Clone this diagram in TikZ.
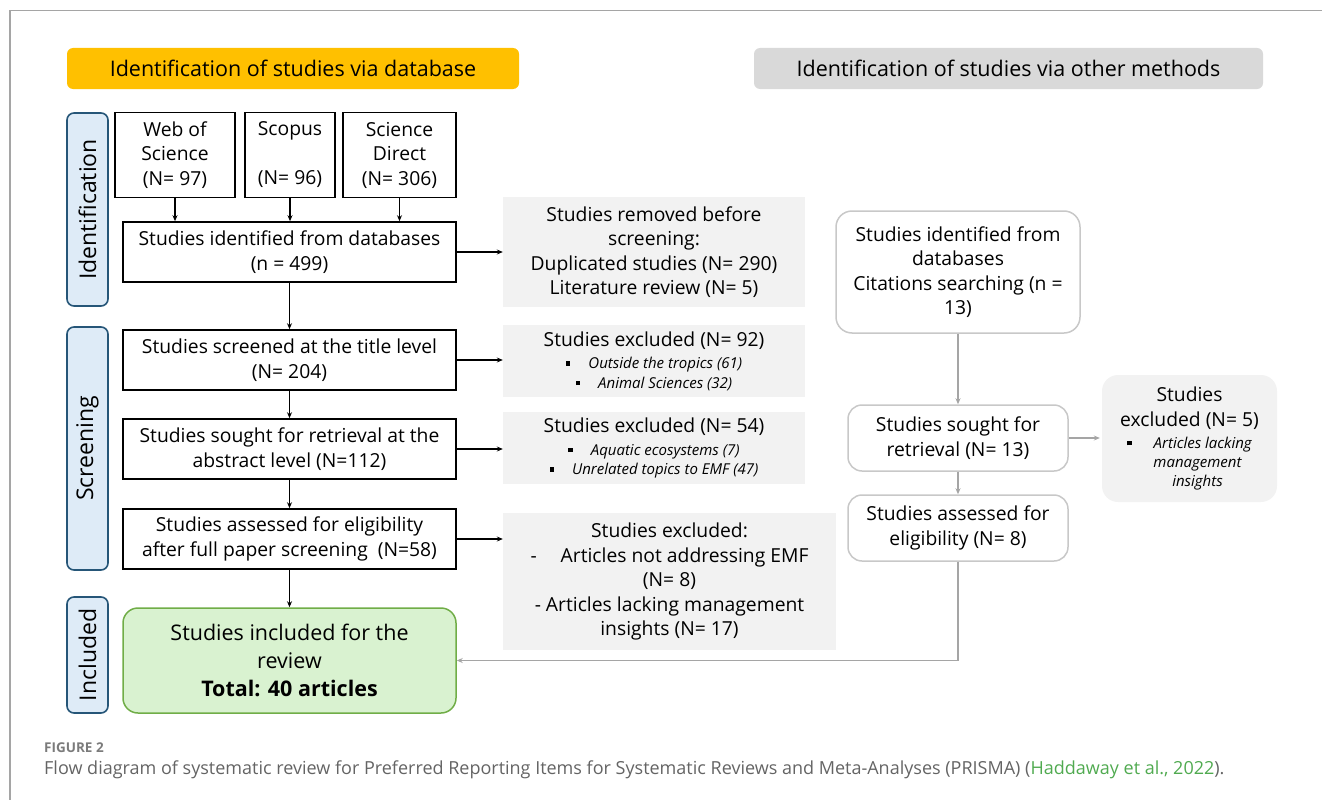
\documentclass[tikz,border=0pt]{standalone}
\usepackage{fontspec}
\setmainfont{Open Sans}
\usetikzlibrary{arrows.meta}
\definecolor{orng}{RGB}{255,192,0}
\definecolor{gbanner}{RGB}{217,217,217}
\definecolor{lblfill}{RGB}{222,235,247}
\definecolor{lbldraw}{RGB}{38,86,120}
\definecolor{exfill}{RGB}{242,242,242}
\definecolor{grline}{RGB}{165,165,165}
\definecolor{rborder}{RGB}{200,200,200}
\definecolor{inclfill}{RGB}{217,242,208}
\definecolor{incldraw}{RGB}{112,173,71}
\definecolor{captgray}{RGB}{100,100,100}
\definecolor{captgreen}{RGB}{80,170,80}
\newcommand{\bsq}{\raisebox{3pt}{\rule{4.5pt}{4.5pt}}}
\newcommand{\sm}{\fontsize{15}{20}\selectfont\itshape}
\tikzset{
  base/.style={inner sep=0pt, align=center, font=\fontsize{19.3}{24.5}\selectfont},
  blkbox/.style={base, draw=black, line width=1.6pt, fill=white},
  exbox/.style={base, fill=exfill},
  banner/.style={base, rounded corners=6pt, font=\fontsize{21.5}{26}\selectfont},
  sidelab/.style={base, rotate=90, draw=lbldraw, fill=lblfill, line width=1.6pt, rounded corners=7pt, font=\fontsize{23}{26}\selectfont},
  rbox/.style={base, draw=rborder, line width=1.5pt, fill=white, rounded corners=14pt},
  arr/.style={-{Stealth[length=6pt,width=5pt]}, line width=1.2pt, black},
  garr/.style={-{Stealth[length=6pt,width=5pt]}, line width=1.5pt, grline}
}
\begin{document}
\begin{tikzpicture}[x=1pt,y=-1pt]
\useasboundingbox (0,0) rectangle (1322,800);
% frame
\draw[grline, line width=1.4pt] (10,800) -- (10,10.5) -- (1322,10.5);
% banners
\node[banner, fill=orng, minimum width=452pt, minimum height=41pt] (b1) at (293,68.5) {Identification of studies via database};
\node[banner, fill=gbanner, minimum width=509pt, minimum height=41pt] (b2) at (1008.5,68.5) {Identification of studies via other methods};
% side labels
\node[sidelab, minimum width=193pt, minimum height=41pt] (l1) at (87.5,209.5) {Identification};
\node[sidelab, minimum width=243pt, minimum height=41pt] (l2) at (87.5,448.5) {Screening};
\node[sidelab, minimum width=116pt, minimum height=41pt] (l3) at (87.5,655) {Included};
% databases
\node[blkbox, minimum width=120pt, minimum height=85pt] (wos) at (175,155) {Web of\\Science\\(N= 97)};
\node[blkbox, minimum width=90pt, minimum height=85pt] (sco) at (290,155) {Scopus\\\strut\\(N= 96)};
\node[blkbox, minimum width=113pt, minimum height=85pt] (sd) at (399.5,155) {Science\\Direct\\(N= 306)};
% main column
\node[blkbox, minimum width=333pt, minimum height=60pt] (ident) at (289.5,252) {Studies identified from databases\\(n = 499)};
\node[blkbox, minimum width=333pt, minimum height=60pt] (scr) at (289.5,360) {Studies screened at the title level\\(N= 204)};
\node[blkbox, minimum width=333pt, minimum height=60pt] (sou) at (289.5,449) {Studies sought for retrieval at the\\abstract level (N=112)};
\node[blkbox, minimum width=333pt, minimum height=60pt] (ass) at (289.5,539) {Studies assessed for eligibility\\after full paper screening~~(N=58)};
\node[base, draw=incldraw, fill=inclfill, line width=1.5pt, rounded corners=15pt, minimum width=333pt, minimum height=105pt, font=\fontsize{21.5}{28}\selectfont] (inc) at (289.5,660.5) {Studies included for the\\review\\\textbf{Total: 40 articles}};
% exclusion boxes
\node[exbox, minimum width=302pt, minimum height=110pt] (rem) at (654,252) {Studies removed before\\screening:\\Duplicated studies (N= 290)\\Literature review (N= 5)};
\node[exbox, minimum width=302pt, minimum height=72pt] (ex1) at (654,361) {Studies excluded (N= 92)\\[-2pt]
  {\sm\bsq\hspace{18pt}Outside the tropics (61)}\\[-5pt]
  {\sm\bsq\hspace{18pt}Animal Sciences (32)}};
\node[exbox, minimum width=302pt, minimum height=72pt] (ex2) at (654,448) {Studies excluded (N= 54)\\[-2pt]
  {\sm\bsq\hspace{18pt}Aquatic ecosystems (7)}\\[-5pt]
  {\sm\bsq\hspace{18pt}Unrelated topics to EMF (47)}};
\node[exbox, minimum width=333pt, minimum height=137pt] (ex3) at (669.5,581.5) {Studies excluded:\\-\hspace{24pt}Articles not addressing EMF\\(N= 8)\\- Articles lacking management\\insights (N= 17)};
% right column
\node[rbox, minimum width=244pt, minimum height=122pt, rounded corners=16pt] (rid) at (958,272) {Studies identified from\\databases\\Citations searching (n =\\13)};
\node[rbox, minimum width=220pt, minimum height=66pt] (rso) at (958,438) {Studies sought for\\retrieval (N= 13)};
\node[rbox, minimum width=220pt, minimum height=66pt] (ras) at (958,528) {Studies assessed for\\eligibility (N= 8)};
\node[base, fill=exfill, rounded corners=16pt, minimum width=175pt, minimum height=127pt] (rex) at (1189.5,438.5) {Studies\\excluded (N= 5)\\[-2.5pt]
  {\sm\bsq\hspace{22pt}Articles lacking}\\[-5.5pt]
  {\sm\hspace{16pt}management}\\[-5.5pt]
  {\sm\hspace{16pt}insights}};
% arrows (black)
\draw[arr] (wos.south) -- (wos.south |- ident.north);
\draw[arr] (sco.south) -- (sco.south |- ident.north);
\draw[arr] (sd.south) -- (sd.south |- ident.north);
\draw[arr] (ident.south) -- (scr.north);
\draw[arr] (scr.south) -- (sou.north);
\draw[arr] (sou.south) -- (ass.north);
\draw[arr] (ass.south) -- (inc.north);
\draw[arr] (ident.east) -- (rem.west |- ident.east);
\draw[arr] (scr.east) -- (ex1.west |- scr.east);
\draw[arr] (sou.east) -- (ex2.west |- sou.east);
\draw[arr] (ass.east) -- (ex3.west |- ass.east);
% arrows (gray)
\draw[garr] (rid.south) -- (rso.north);
\draw[garr] (rso.south) -- (ras.north);
\draw[garr] (rso.east) -- ([xshift=-2pt]rso.east -| rex.west);
\draw[garr] (ras.south) -- (ras.south |- inc.east) -- (inc.east);
% caption
\node[anchor=base west, inner sep=0pt, text=captgray!85, font=\fontsize{13.5}{16}\selectfont\bfseries] (fig) at (44,752) {FIGURE 2};
\node[anchor=base west, inner sep=0pt, text=captgray, font=\fontsize{18}{22}\selectfont] (cap) at (44,774) {Flow diagram of systematic review for Preferred Reporting Items for Systematic Reviews and Meta-Analyses (PRISMA) (\textcolor{captgreen}{Haddaway et al., 2022}).};
\end{tikzpicture}
\end{document}
